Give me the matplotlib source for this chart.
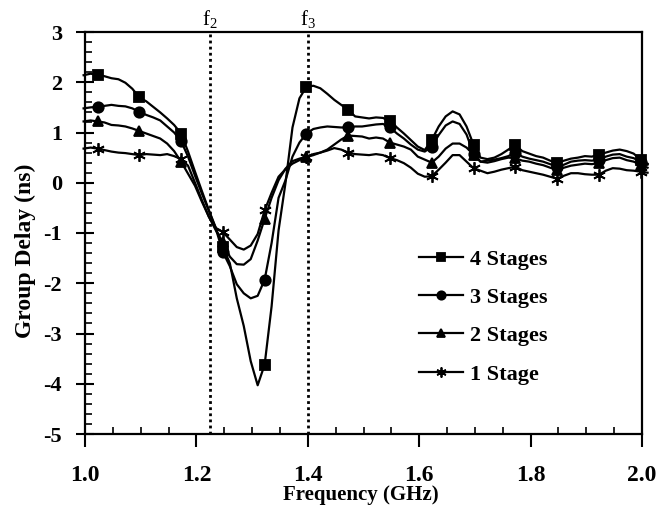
import numpy as np
import matplotlib
matplotlib.use('Agg')
import matplotlib.pyplot as plt
from matplotlib.ticker import MultipleLocator, FormatStrFormatter

plt.rcParams['font.family'] = 'Liberation Serif'
plt.rcParams['axes.unicode_minus'] = False

# frequency sweep (GHz), 0.0125 GHz step
freq = np.round(0.9975 + 0.0125 * np.arange(82), 4)

stage4 = [2.14, 2.17, 2.15, 2.12, 2.08, 2.06, 1.99, 1.87, 1.70, 1.62,
          1.51, 1.40, 1.28, 1.15, 0.98, 0.62, 0.22, -0.17, -0.55, -0.90,
          -1.28, -1.60, -2.30, -2.85, -3.55, -4.03, -3.62, -2.46, -0.95, 0.00,
          1.10, 1.68, 1.91, 1.93, 1.88, 1.77, 1.65, 1.55, 1.45, 1.32,
          1.30, 1.28, 1.30, 1.29, 1.22, 1.10, 0.98, 0.85, 0.72, 0.65,
          0.85, 1.12, 1.32, 1.42, 1.36, 1.12, 0.76, 0.50, 0.47, 0.50,
          0.57, 0.66, 0.75, 0.63, 0.58, 0.53, 0.50, 0.44, 0.39, 0.44,
          0.48, 0.50, 0.53, 0.52, 0.56, 0.60, 0.64, 0.66, 0.63, 0.58,
          0.46, 0.38]
stage3 = [1.48, 1.50, 1.51, 1.53, 1.55, 1.53, 1.52, 1.48, 1.41, 1.35,
          1.30, 1.24, 1.12, 1.00, 0.83, 0.52, 0.14, -0.22, -0.56, -0.92,
          -1.38, -1.66, -2.02, -2.20, -2.30, -2.25, -1.93, -1.20, -0.30, 0.05,
          0.52, 0.80, 0.98, 1.07, 1.10, 1.12, 1.11, 1.10, 1.10, 1.12,
          1.12, 1.14, 1.16, 1.17, 1.10, 0.98, 0.88, 0.76, 0.66, 0.62,
          0.72, 0.95, 1.14, 1.22, 1.17, 0.96, 0.58, 0.42, 0.44, 0.46,
          0.49, 0.53, 0.60, 0.52, 0.48, 0.45, 0.42, 0.37, 0.32, 0.36,
          0.42, 0.44, 0.45, 0.44, 0.46, 0.52, 0.56, 0.57, 0.52, 0.49,
          0.42, 0.36]
stage2 = [1.22, 1.24, 1.22, 1.20, 1.15, 1.14, 1.12, 1.08, 1.03, 0.98,
          0.93, 0.88, 0.78, 0.63, 0.42, 0.18, -0.06, -0.38, -0.68, -0.95,
          -1.18, -1.47, -1.62, -1.63, -1.52, -1.15, -0.72, -0.30, 0.05, 0.28,
          0.43, 0.48, 0.52, 0.57, 0.60, 0.66, 0.76, 0.86, 0.94, 0.93,
          0.92, 0.88, 0.90, 0.88, 0.80, 0.76, 0.72, 0.66, 0.52, 0.46,
          0.40, 0.52, 0.68, 0.78, 0.78, 0.70, 0.56, 0.42, 0.40, 0.43,
          0.47, 0.50, 0.49, 0.44, 0.42, 0.38, 0.35, 0.30, 0.26, 0.30,
          0.34, 0.36, 0.38, 0.37, 0.39, 0.45, 0.49, 0.50, 0.45, 0.42,
          0.36, 0.30]
stage1 = [0.68, 0.70, 0.68, 0.65, 0.62, 0.60, 0.59, 0.57, 0.55, 0.57,
          0.56, 0.55, 0.57, 0.53, 0.47, 0.34, 0.00, -0.35, -0.68, -0.90,
          -0.98, -1.13, -1.28, -1.33, -1.25, -1.02, -0.55, -0.20, 0.12, 0.27,
          0.38, 0.45, 0.51, 0.55, 0.60, 0.64, 0.69, 0.66, 0.60, 0.57,
          0.56, 0.55, 0.57, 0.55, 0.49, 0.45, 0.39, 0.30, 0.18, 0.12,
          0.13, 0.26, 0.40, 0.55, 0.55, 0.42, 0.29, 0.24, 0.19, 0.22,
          0.26, 0.29, 0.32, 0.25, 0.22, 0.19, 0.16, 0.12, 0.08, 0.14,
          0.19, 0.19, 0.17, 0.16, 0.16, 0.24, 0.29, 0.28, 0.25, 0.24,
          0.22, 0.20]

labels = ['4 Stages', '3 Stages', '2 Stages', '1 Stage']
markers = ['s', 'o', '^', (6, 2, 0)]
f_marks = [1.225, 1.4]
f_names = ['f$_\\mathregular{2}$', 'f$_\\mathregular{3}$']

fig = plt.figure(figsize=(6.66, 5.09), dpi=100)
ax = fig.add_axes([85/666, 1-434/509, 557/666, 402/509])

for ys, lab, m in zip([stage4, stage3, stage2, stage1], labels, markers):
    ms = 9 if m == (6, 2, 0) else 7.5
    ax.plot(freq, ys, color='black', lw=1.6, marker=m, ms=ms, mew=1.3,
            markevery=(2, 6), label=lab, clip_on=False)

for fm, fn in zip(f_marks, f_names):
    ax.axvline(fm, color='black', ls=(0, (1, 1.2)), lw=2)
    ax.text(fm, 3.13, fn, ha='center', va='baseline', fontsize=15)

ax.set_xlim(1.0, 2.0)
ax.set_ylim(-5, 3)
ax.xaxis.set_major_locator(MultipleLocator(0.2))
ax.xaxis.set_minor_locator(MultipleLocator(0.05))
ax.yaxis.set_major_locator(MultipleLocator(1))
ax.yaxis.set_minor_locator(MultipleLocator(0.2))
ax.xaxis.set_major_formatter(FormatStrFormatter('%.1f'))
ax.tick_params(axis='x', which='major', direction='out', length=9, width=1.5, pad=13)
ax.tick_params(axis='y', which='major', direction='inout', length=13, width=1.5, pad=10)
ax.tick_params(which='minor', direction='in', length=5, width=1.2)
for t in ax.get_xticklabels():
    t.set_fontsize(17)
    t.set_fontweight('bold')
for t in ax.get_yticklabels():
    t.set_fontsize(16)
    t.set_fontweight('bold')
for s in ax.spines.values():
    s.set_linewidth(1.6)

ax.set_xlabel('Frequency (GHz)', fontsize=15, fontweight='bold')
ax.set_ylabel('Group Delay (ns)', fontsize=17, fontweight='bold')
ax.xaxis.set_label_coords(0.495, -0.128)
ax.yaxis.set_label_coords(-0.088, 0.455)

ax.legend(loc='upper left', bbox_to_anchor=(0.563, 0.51), frameon=False,
          prop={'family': 'Liberation Serif', 'weight': 'bold', 'size': 16},
          handlelength=2.0, handletextpad=0.3, labelspacing=0.8, markerscale=0.8)

fig.savefig('out.png', dpi=100)
